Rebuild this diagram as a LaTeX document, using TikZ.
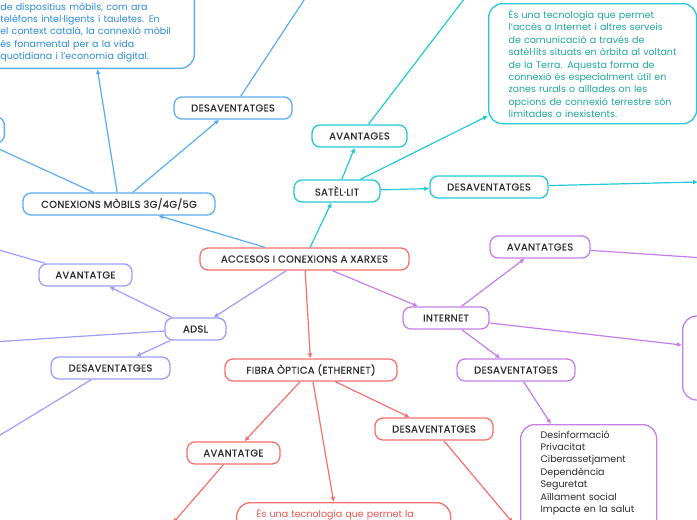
\documentclass[tikz,border=0pt]{standalone}
\usepackage{fontspec}
\setmainfont{Poppins}
\newfontfamily\labelfont{Poppins}[LetterSpace=3, FakeBold=0.3]
\usetikzlibrary{arrows.meta}

\definecolor{redline}{HTML}{F7706E}
\definecolor{redtext}{HTML}{EF5350}
\definecolor{cyanline}{HTML}{22C9D8}
\definecolor{tealtext}{HTML}{1FA99A}
\definecolor{blueline}{HTML}{5AACF5}
\definecolor{bluetext}{HTML}{2C8CDC}
\definecolor{violetline}{HTML}{9E9CFC}
\definecolor{purpleline}{HTML}{C57FEA}
\definecolor{labelgray}{HTML}{2B2B2B}

\begin{document}
\begin{tikzpicture}[
        x=1pt, y=-1pt,
        every node/.style={font=\fontsize{9.5}{12.4}\selectfont, text=labelgray},
        topic/.style={rectangle, draw, line width=1.3pt, fill=white, rounded corners=8pt, minimum height=22pt, inner sep=2pt, font=\labelfont\fontsize{10}{12}\selectfont},
        redtopic/.style={topic, draw=redline},
        cyantopic/.style={topic, draw=cyanline},
        bluetopic/.style={topic, draw=blueline},
        violettopic/.style={topic, draw=violetline},
        purpletopic/.style={topic, draw=purpleline},
        txtbox/.style={rectangle, draw, line width=1.3pt, fill=white, rounded corners=14pt, inner xsep=8pt, inner ysep=6pt, text width=#1, execute at begin node={\raggedright\leftskip=12pt\relax}},
        arrow/.style={-{Latex[length=5pt,width=5pt]}, line width=1.2pt}
    ]

    \useasboundingbox (0,0) rectangle (697,520);

    % Nodes
    \node[redtopic, minimum width=209] (acc) at (304.5,259) {ACCESOS I CONEXIONS A XARXES};

    \node[cyantopic, minimum width=86] (sat) at (337,191) {SATÈL·LIT};
    \node[cyantopic, minimum width=95] (sat_av) at (359.5,136) {AVANTAGES};
    \node[cyantopic, minimum width=118] (sat_des) at (489,187) {DESAVENTATGES};
    \node[txtbox=192, draw=cyanline, text=tealtext, anchor=north west] (sat_txt) at (488,3) {És una tecnologia que permet\\ l’accés a Internet i altres serveis\\ de comunicació a través de\\ satèl·lits situats en òrbita al voltant\\ de la Terra. Aquesta forma de\\ connexió és especialment útil en\\ zones rurals o aïllades on les\\ opcions de connexió terrestre són\\ limitades o inexistents.};

    \node[bluetopic, minimum width=192] (mob) at (119,204) {CONEXIONS MÒBILS 3G/4G/5G};
    \node[bluetopic, minimum width=118] (mob_des) at (233,108) {DESAVENTATGES};
    \node[bluetopic, minimum width=60, minimum height=26, anchor=east] (mob_more) at (5,130) {};
    \node[txtbox=198, draw=blueline, text=bluetext, anchor=south east] (mob_txt) at (195,69) {\rule{0pt}{40pt}de dispositius mòbils, com ara\\ telèfons intel·ligents i tauletes. En\\ el context català, la connexió mòbil\\ és fonamental per a la vida\\ quotidiana i l’economia digital.};

    \node[violettopic, minimum width=61] (adsl) at (195.5,329) {ADSL};
    \node[violettopic, minimum width=93] (adsl_av) at (85.5,275) {AVANTATGE};
    \node[violettopic, minimum width=119] (adsl_des) at (110.5,368) {DESAVENTATGES};

    \node[redtopic, minimum width=172] (fib) at (311,370) {FIBRA ÒPTICA (ETHERNET)};
    \node[redtopic, minimum width=93] (fib_av) at (233.5,453) {AVANTATGE};
    \node[redtopic, minimum width=118] (fib_des) at (434,429) {DESAVENTATGES};
    \node[txtbox=198, draw=redline, text=redtext, anchor=north west] (fib_txt) at (236,502) {És una tecnologia que permet la\rule[-30pt]{0pt}{30pt}};

    \node[purpletopic, minimum width=86] (int) at (446,318) {INTERNET};
    \node[purpletopic, minimum width=100] (int_av) at (540,247) {AVANTATGES};
    \node[purpletopic, minimum width=118] (int_des) at (516,370) {DESAVENTATGES};
    \node[purpletopic, minimum width=60, minimum height=84, rounded corners=14pt, anchor=west] (int_more) at (682,358) {};
    \node[txtbox=120, draw=purpleline, anchor=north west] (int_list) at (520,424) {Desinformació\\ Privacitat\\ Ciberassetjament\\ Dependència\\ Seguretat\\ Aïllament social\\ Impacte en la salut\rule[-16pt]{0pt}{16pt}};

    % free ends beyond the page
    \coordinate (sat_av_end) at (468,-6);
    \coordinate (sat_des_end) at (698,182);
    \coordinate (mob_des_end) at (308,-6);
    \coordinate (mob_left_end) at (-12,144);
    \coordinate (adsl_av_end) at (-8,248);
    \coordinate (adsl_end) at (-8,342);
    \coordinate (adsl_des_end) at (-8,440);
    \coordinate (fib_av_end) at (173,523);
    \coordinate (fib_des_end) at (513,523);
    \coordinate (int_av_end) at (704,258);

    % === EDGES ===

    % from the centre
    \draw[arrow, cyanline] (acc) -- (sat);
    \draw[arrow, blueline] (acc) -- (mob);
    \draw[arrow, violetline] (acc) -- (adsl);
    \draw[arrow, redline] (acc) -- (fib);
    \draw[arrow, purpleline] (acc) -- (int);

    % SATEL-LIT branch
    \draw[arrow, cyanline] (sat) -- (sat_av);
    \draw[arrow, cyanline] (sat) -- (sat_txt);
    \draw[arrow, cyanline] (sat) -- (sat_des);
    \draw[arrow, cyanline] (sat_av) -- (sat_av_end);
    \draw[arrow, cyanline] (sat_des) -- (sat_des_end);

    % mobile branch
    \draw[arrow, blueline] (mob) -- ([xshift=10pt]mob_txt.south);
    \draw[arrow, blueline] (mob) -- (mob_des);
    \draw[arrow, blueline] (mob_des) -- (mob_des_end);
    \draw[arrow, blueline] (mob) -- (mob_left_end);

    % ADSL branch
    \draw[arrow, violetline] (adsl) -- (adsl_av);
    \draw[arrow, violetline] (adsl) -- (adsl_des);
    \draw[arrow, violetline] (adsl) -- (adsl_end);
    \draw[arrow, violetline] (adsl_av) -- (adsl_av_end);
    \draw[arrow, violetline] (adsl_des) -- (adsl_des_end);

    % fibre branch
    \draw[arrow, redline] (fib) -- (fib_av);
    \draw[arrow, redline] (fib) -- ([xshift=-10pt]fib_txt.north);
    \draw[arrow, redline] (fib) -- (fib_des);
    \draw[arrow, redline] (fib_av) -- (fib_av_end);
    \draw[arrow, redline] (fib_des) -- (fib_des_end);

    % internet branch
    \draw[arrow, purpleline] (int) -- (int_av);
    \draw[arrow, purpleline] (int) -- (int_des);
    \draw[arrow, purpleline] (int) -- ([yshift=13pt]int_more.west);
    \draw[arrow, purpleline] (int_av) -- (int_av_end);
    \draw[arrow, purpleline] (int_des) -- ([xshift=31pt]int_list.north west);

\end{tikzpicture}
\end{document}
